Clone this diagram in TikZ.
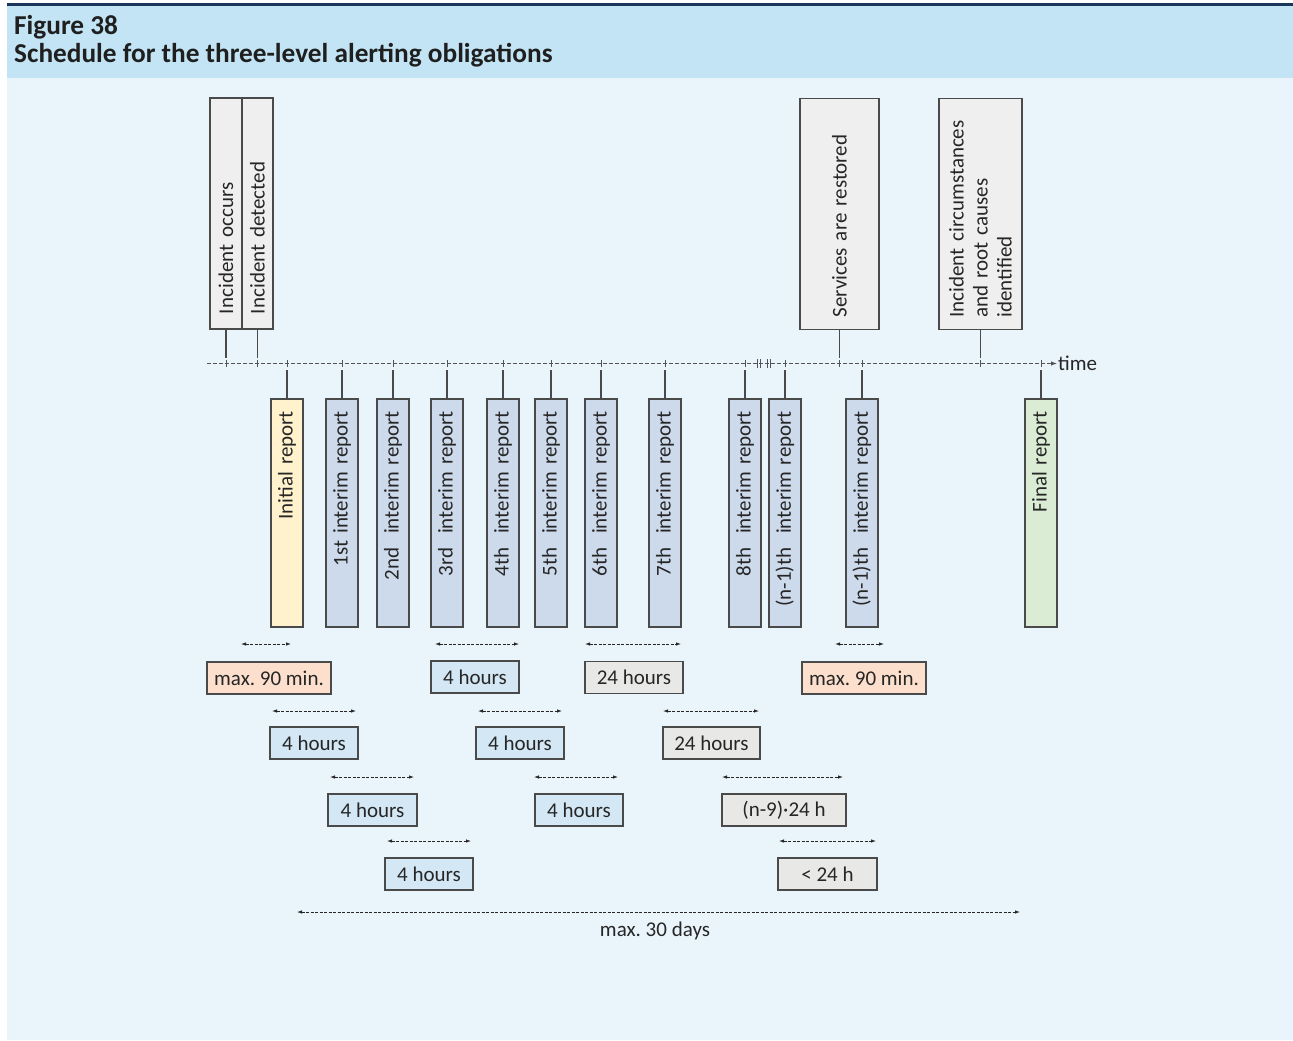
\documentclass[tikz,border=0pt]{standalone}
\usepackage{fontspec}
\setmainfont{Carlito}
\usetikzlibrary{arrows.meta}
\frenchspacing
\definecolor{navy}{HTML}{1B365D}
\definecolor{hdr}{HTML}{C2E4F4}
\definecolor{bodybg}{HTML}{E9F4FB}
\definecolor{evfill}{HTML}{EFEFEF}
\definecolor{repfill}{HTML}{CDDAEB}
\definecolor{initfill}{HTML}{FFF2CC}
\definecolor{finalfill}{HTML}{DAEDD4}
\definecolor{hfill}{HTML}{D3E7F4}
\definecolor{minfill}{HTML}{FCDFCC}
\definecolor{dayfill}{HTML}{E8E8E6}
\definecolor{ink}{HTML}{262626}
\definecolor{edge}{HTML}{4A4A4A}
\definecolor{tline}{HTML}{555555}
\begin{document}
\begin{tikzpicture}[x=1pt,y=-1pt,
  every node/.style={text=ink, font=\fontsize{21}{24}\selectfont\frenchspacing},
  evbox/.style={draw=edge, line width=1.1pt, fill=evfill, rotate=90,
    inner xsep=#1, inner ysep=0pt, text width=231pt-2*#1, align=left},
  repbox/.style={draw=edge, line width=1.1pt, fill=#1, rotate=90,
    inner xsep=12pt, inner ysep=0pt, text width=204pt, align=right,
    minimum height=32pt},
  lab/.style={draw=edge, line width=1.1pt, minimum height=32pt, inner sep=0pt},
  conn/.style={draw=edge, line width=1.1pt},
  tick/.style={draw=tline, line width=0.8pt},
  timeline/.style={draw=tline, line width=1pt, dash pattern=on 4pt off 2pt,
    -{Latex[length=6pt,width=4.5pt]}},
  dim/.style={draw=ink, line width=0.8pt, dash pattern=on 3pt off 1.5pt,
    {Latex[length=5pt,width=3.5pt]}-{Latex[length=5pt,width=3.5pt]}},
  hdrtext/.style={anchor=base west, inner sep=0pt, text=black!88, font=\fontsize{27.3}{29}\selectfont\bfseries}
]
\useasboundingbox (0,0) rectangle (1293,1041);
% background
\fill[white] (0,0) rectangle (1293,1041);
\fill[bodybg] (7,78) rectangle (1293,1040);
\fill[hdr] (7,6) rectangle (1293,78);
\fill[navy] (7,3) rectangle (1293,6);
\node[hdrtext] (fig) at (14,34.5) {Figure 38};
\node[hdrtext] (ttl) at (14,63) {Schedule for the three-level alerting obligations};

% timeline coordinates
\coordinate (tlA) at (0,358);
\coordinate (tlB) at (0,370);
\coordinate (tl) at (0,363.5);
\coordinate (tstart) at (207,363.5);
\node[anchor=west, inner sep=1pt] (time) at (1057,363.5) {time};
\draw[timeline] (tstart) -- (time.west);

% event boxes (above the time line)
\node[evbox=15pt, minimum height=32pt] (occ) at (226,213.5) {Incident occurs};
\node[evbox=15pt, minimum height=31pt] (det) at (257.5,213.5) {Incident detected};
\node[evbox=12pt, minimum height=79pt] (rest) at (839.5,214) {Services are restored};
\node[evbox=12pt, minimum height=83pt] (cause) at (980.5,214) {Incident circumstances\\and root causes\\identified};

\foreach \n in {occ,det,rest,cause}{
  \draw[conn] (\n.west) -- (\n.west |- tlA);
  \draw[tick] ([yshift=3.5pt]\n.west |- tl) -- ([yshift=-3.5pt]\n.west |- tl);
}

% report boxes (below the time line)
\node[repbox=initfill] (ini) at (287,513) {Initial report};
\node[repbox=repfill] (r1) at (342,513) {1st interim report};
\node[repbox=repfill] (r2) at (393,513) {2nd\ \ interim report};
\node[repbox=repfill] (r3) at (447,513) {3rd\ \ interim report};
\node[repbox=repfill] (r4) at (503,513) {4th\ \ interim report};
\node[repbox=repfill] (r5) at (551,513) {5th\ \ interim report};
\node[repbox=repfill] (r6) at (601,513) {6th\ \ interim report};
\node[repbox=repfill] (r7) at (665,513) {7th\ \ interim report};
\node[repbox=repfill] (r8) at (745,513) {8th\ \ interim report};
\node[repbox=repfill] (rn) at (785,513) {(n-1)th\ \ interim report};
\node[repbox=repfill] (rm) at (862,513) {(n-1)th\ \ interim report};
\node[repbox=finalfill] (fin) at (1041,513) {Final report};

\foreach \n in {ini,r1,r2,r3,r4,r5,r6,r7,r8,rn,rm,fin}{
  \draw[conn] (\n.east) -- (\n.east |- tlB);
  \draw[tick] ([yshift=3.5pt]\n.east |- tl) -- ([yshift=-3.5pt]\n.east |- tl);
}

% break mark on the time line
\foreach \bx in {757,760,767,770}{
  \draw[tick, line width=1pt] (\bx,359) -- (\bx,368);
}

% duration labels
\node[lab, fill=minfill, minimum width=124pt] (m90a) at (269,678) {max. 90 min.};
\node[lab, fill=hfill, minimum width=88pt] (h4a) at (475,677) {4 hours};
\node[lab, fill=dayfill, minimum width=98pt] (d24a) at (634,677.5) {24 hours};
\node[lab, fill=minfill, minimum width=124pt] (m90b) at (864,678) {max. 90 min.};

\node[lab, fill=hfill, minimum width=88pt] (h4b) at (314,743) {4 hours};
\node[lab, fill=hfill, minimum width=88pt] (h4c) at (520,743) {4 hours};
\node[lab, fill=dayfill, minimum width=97pt] (d24b) at (711.5,743) {24 hours};

\node[lab, fill=hfill, minimum width=89pt] (h4d) at (372.5,810) {4 hours};
\node[lab, fill=hfill, minimum width=88pt] (h4e) at (579,810) {4 hours};
\node[lab, fill=dayfill, minimum width=124pt] (n9) at (784,810) {(n-9)·24 h};

\node[lab, fill=hfill, minimum width=88pt] (h4f) at (429,874) {4 hours};
\node[lab, fill=dayfill, minimum width=99pt] (lt24) at (827.5,874) {< 24 h};

\node (days) at (655,931) {max. 30 days};

% duration arrows
\coordinate (a1s) at (241,644); \coordinate (a1e) at (291,644);
\coordinate (a2s) at (435,644); \coordinate (a2e) at (519,644);
\coordinate (a3s) at (585,644); \coordinate (a3e) at (681,644);
\coordinate (a4s) at (835,644); \coordinate (a4e) at (884,644);
\coordinate (b1s) at (272,711); \coordinate (b1e) at (356,711);
\coordinate (b2s) at (478,711); \coordinate (b2e) at (562,711);
\coordinate (b3s) at (663,711); \coordinate (b3e) at (759,711);
\coordinate (c1s) at (330,777); \coordinate (c1e) at (414,777);
\coordinate (c2s) at (534,777); \coordinate (c2e) at (618,777);
\coordinate (c3s) at (722,777); \coordinate (c3e) at (843,777);
\coordinate (e1s) at (387,841); \coordinate (e1e) at (471,841);
\coordinate (e2s) at (779,841); \coordinate (e2e) at (876,841);
\coordinate (fs) at (297,912); \coordinate (fe) at (1020,912);
\foreach \p in {a1,a2,a3,a4,b1,b2,b3,c1,c2,c3,e1,e2,f}{
  \draw[dim] (\p s) -- (\p e);
}
\end{tikzpicture}
\end{document}
